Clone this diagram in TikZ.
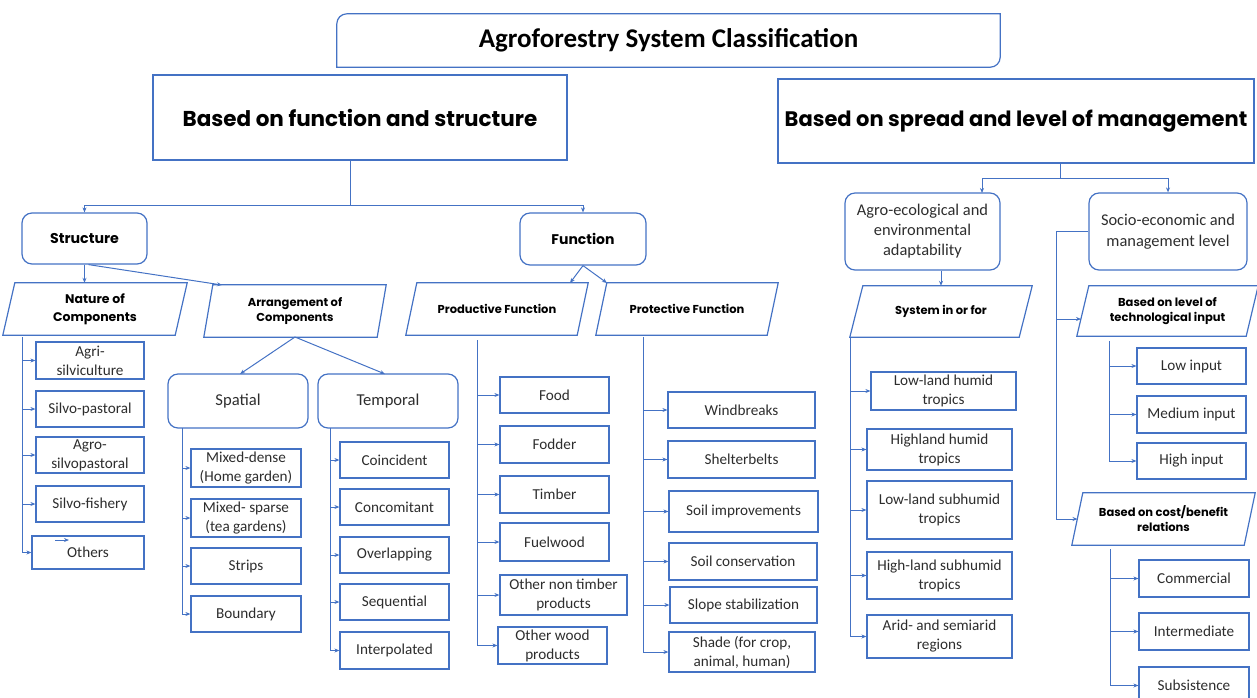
\documentclass[tikz,border=0pt]{standalone}
\usepackage{fontspec}
\setmainfont{Carlito}
\newfontfamily\hfont{Poppins}
\usetikzlibrary{arrows.meta,calc}
\definecolor{lb}{RGB}{68,114,196}
\definecolor{tx}{RGB}{45,45,45}
\newcommand\paraShape[2]{\draw[edge] (#1.south west) -- ([xshift=-#2pt]#1.south east) -- (#1.north east) -- ([xshift=#2pt]#1.north west) -- cycle;}
\tikzset{
  edge/.style={draw=lb, line width=1.2pt},
  leaf/.style={draw=lb, line width=1.2pt, align=center, text=tx, font=\fontsize{15.2}{19}\selectfont, inner sep=1pt},
  rbox/.style={leaf, rounded corners=10pt},
  ptext/.style={align=center, text=black, inner sep=0pt, font=\hfont\bfseries\fontsize{11.5}{15}\selectfont},
  conn/.style={draw=lb, line width=1pt},
  arr/.style={conn, -{Stealth[length=5pt,width=4pt]}},
}
\begin{document}
\begin{tikzpicture}[x=1pt,y=-1pt]
\useasboundingbox (0,0) rectangle (1257,697);
\clip (0,0) rectangle (1257,697);

% level 0 and 1
\node[draw=none, minimum width=663pt, minimum height=53pt, inner sep=0pt,
      font=\bfseries\fontsize{27}{30}\selectfont, text=black] (title) at (668.5,40.5) {Agroforestry System Classification};
\draw[edge] (title.west) [rounded corners=10pt] -- (title.north west) [sharp corners] -- (title.north east) -- (title.east) [rounded corners=10pt] -- (title.south east) [sharp corners] -- (title.south west) -- cycle;

\node[draw=lb, line width=1.2pt, minimum width=414pt, minimum height=85pt, inner sep=0pt,
      font=\hfont\bfseries\fontsize{21.5}{24}\selectfont] (bfs) at (360,117.5) {Based on function and structure};
\node[draw=lb, line width=1.2pt, minimum width=476pt, minimum height=84pt, inner sep=0pt,
      font=\hfont\bfseries\fontsize{21}{24}\selectfont] (bsm) at (1016,121) {Based on spread and level of management};

% level 2
\node[rbox, minimum width=125pt, minimum height=51pt, text=black, font=\hfont\bfseries\fontsize{14.2}{16}\selectfont] (struct) at (84.5,238.5) {Structure};
\node[rbox, minimum width=126pt, minimum height=52pt, text=black, font=\hfont\bfseries\fontsize{14}{16}\selectfont] (func) at (583,239) {Function};
\node[rbox, minimum width=155pt, minimum height=77pt, font=\fontsize{16.4}{20}\selectfont] (agro) at (922.5,231.5) {Agro-ecological and\\environmental\\adaptability};
\node[rbox, minimum width=158pt, minimum height=77pt, font=\fontsize{16.4}{21}\selectfont] (socio) at (1168,231.5) {Socio-economic and\\management level};

% parallelograms
\node[ptext, minimum width=184pt, minimum height=52pt, font=\hfont\bfseries\fontsize{12.5}{18}\selectfont] (nat) at (95,309) {Nature of\\Components};
\paraShape{nat}{12}
\node[ptext, minimum width=182pt, minimum height=52pt] (arrg) at (295,311) {Arrangement of\\Components};
\paraShape{arrg}{9}
\node[ptext, minimum width=182pt, minimum height=52pt] (prod) at (497,309) {Productive Function};
\paraShape{prod}{11}
\node[ptext, minimum width=182pt, minimum height=52pt] (prot) at (687,309) {Protective Function};
\paraShape{prot}{11}
\node[ptext, minimum width=182pt, minimum height=51pt] (sys) at (941,311.5) {System in or for};
\paraShape{sys}{13}
\node[ptext, minimum width=181pt, minimum height=50pt] (tech) at (1167.5,311) {Based on level of\\technological input};
\paraShape{tech}{12}
\node[ptext, minimum width=183pt, minimum height=52pt] (cost) at (1163.5,519) {Based on cost/benefit\\relations};
\paraShape{cost}{11}

% Spatial / Temporal
\node[rbox, minimum width=140pt, minimum height=54pt, font=\fontsize{16.6}{19}\selectfont] (spat) at (238,401) {Spatial};
\node[rbox, minimum width=140pt, minimum height=54pt, font=\fontsize{16.6}{19}\selectfont] (temp) at (388,401) {Temporal};

% Nature leaves
\node[leaf, minimum width=108pt, minimum height=37pt] (n1) at (90,360.5) {Agri-\\silviculture};
\node[leaf, minimum width=108pt, minimum height=36pt] (n2) at (90,409) {Silvo-pastoral};
\node[leaf, minimum width=108pt, minimum height=36pt] (n3) at (90,455) {Agro-\\silvopastoral};
\node[leaf, minimum width=108pt, minimum height=36pt] (n4) at (90,504) {Silvo-fishery};
\node[leaf, minimum width=112pt, minimum height=33pt] (n5) at (88,552.5) {Others};

% Spatial leaves
\node[leaf, minimum width=110pt, minimum height=38pt] (s1) at (246,468) {Mixed-dense\\(Home garden)};
\node[leaf, minimum width=110pt, minimum height=38pt] (s2) at (246,518) {Mixed- sparse\\(tea gardens)};
\node[leaf, minimum width=110pt, minimum height=36pt] (s3) at (246,566) {Strips};
\node[leaf, minimum width=110pt, minimum height=36pt] (s4) at (246,614) {Boundary};

% Temporal leaves
\node[leaf, minimum width=109pt, minimum height=36pt] (t1) at (394.5,460) {Coincident};
\node[leaf, minimum width=109pt, minimum height=36pt] (t2) at (394.5,507) {Concomitant};
\node[leaf, minimum width=109pt, minimum height=36pt] (t3) at (394.5,555) {Overlapping};
\node[leaf, minimum width=109pt, minimum height=36pt] (t4) at (394.5,602) {Sequential};
\node[leaf, minimum width=109pt, minimum height=37pt] (t5) at (394.5,650.5) {Interpolated};

% Productive leaves
\node[leaf, minimum width=109pt, minimum height=36pt] (p1) at (554.5,395) {Food};
\node[leaf, minimum width=109pt, minimum height=37pt] (p2) at (554.5,444.5) {Fodder};
\node[leaf, minimum width=109pt, minimum height=37pt] (p3) at (554.5,494.5) {Timber};
\node[leaf, minimum width=109pt, minimum height=38pt] (p4) at (554.5,542) {Fuelwood};
\node[leaf, minimum width=127pt, minimum height=40pt] (p5) at (563.5,595) {Other non timber\\products};
\node[leaf, minimum width=109pt, minimum height=37pt] (p6) at (552.5,645.5) {Other wood\\products};

% Protective leaves
\node[leaf, minimum width=147pt, minimum height=36pt] (r1) at (741.5,410) {Windbreaks};
\node[leaf, minimum width=147pt, minimum height=37pt] (r2) at (741.5,459.5) {Shelterbelts};
\node[leaf, minimum width=149pt, minimum height=41pt] (r3) at (743.5,511.5) {Soil improvements};
\node[leaf, minimum width=148pt, minimum height=37pt] (r4) at (743,561.5) {Soil conservation};
\node[leaf, minimum width=147pt, minimum height=36pt] (r5) at (743.5,605) {Slope stabilization};
\node[leaf, minimum width=146pt, minimum height=40pt] (r6) at (742,652) {Shade (for crop,\\animal, human)};

% System leaves
\node[leaf, minimum width=145pt, minimum height=38pt] (y1) at (943.5,391) {Low-land humid\\tropics};
\node[leaf, minimum width=145pt, minimum height=41pt] (y2) at (939.5,449.5) {Highland humid\\tropics};
\node[leaf, minimum width=145pt, minimum height=58pt] (y3) at (939.5,510) {Low-land subhumid\\tropics};
\node[leaf, minimum width=145pt, minimum height=47pt] (y4) at (939.5,575.5) {High-land subhumid\\tropics};
\node[leaf, minimum width=145pt, minimum height=43pt] (y5) at (939.5,636.5) {Arid- and semiarid\\regions};

% Tech leaves
\node[leaf, minimum width=109pt, minimum height=36pt] (i1) at (1191.5,366) {Low input};
\node[leaf, minimum width=109pt, minimum height=37pt] (i2) at (1191.5,414.5) {Medium input};
\node[leaf, minimum width=109pt, minimum height=36pt] (i3) at (1191.5,461) {High input};

% Cost leaves
\node[leaf, minimum width=110pt, minimum height=37pt] (c1) at (1194,578.5) {Commercial};
\node[leaf, minimum width=110pt, minimum height=37pt] (c2) at (1194,631.5) {Intermediate};
\node[leaf, minimum width=110pt, minimum height=37pt] (c3) at (1194,685.5) {Subsistence};

% ---------- connectors ----------
\coordinate (j1) at (350,205);
\draw[conn] (bfs.south -| j1) -- (j1);
\draw[arr] (j1) -| (struct.north);
\draw[arr] (j1) -| (func.north);

\draw[arr] (struct.south) -- (struct.south |- nat.north);
\coordinate (arrgIn) at (222,285);
\draw[arr] ([xshift=4pt]struct.south) -- (arrgIn);

\coordinate (arrgOut) at (295,337);
\coordinate (spatIn) at (240,374);
\coordinate (tempIn) at (385,374);
\draw[arr] (arrgOut) -- (spatIn);
\draw[arr] (arrgOut) -- (tempIn);

\coordinate (prodIn) at (570,283);
\coordinate (protIn) at (607,283);
\draw[arr] (func.south) -- (prodIn);
\draw[arr] (func.south) -- (protIn);

% buses
\coordinate (natB) at (22,337);
\draw[conn] (natB) -- (natB |- n5.west);
\foreach \c in {n1,n2,n3,n4,n5} \draw[arr] (natB |- \c.west) -- (\c.west);
\coordinate (strayA) at (55,540);
\coordinate (strayB) at (69,540);
\draw[arr] (strayA) -- (strayB);

\coordinate (spatB) at (182,428);
\draw[conn] (spatB) -- (spatB |- s4.west);
\foreach \c in {s1,s2,s3,s4} \draw[arr] (spatB |- \c.west) -- (\c.west);

\coordinate (tempB) at (330,428);
\draw[conn] (tempB) -- (tempB |- t5.west);
\foreach \c in {t1,t2,t3,t4,t5} \draw[arr] (tempB |- \c.west) -- (\c.west);

\coordinate (prodB) at (477,340);
\draw[conn] (prodB) -- (prodB |- p6.west);
\foreach \c in {p1,p2,p3,p4,p5,p6} \draw[arr] (prodB |- \c.west) -- (\c.west);

\coordinate (protB) at (643,337);
\draw[conn] (protB) -- (protB |- r6.west);
\foreach \c in {r1,r2,r3,r4,r5,r6} \draw[arr] (protB |- \c.west) -- (\c.west);

% right side
\coordinate (j2) at (1060,178);
\coordinate (agroIn) at (982,193);
\draw[conn] (bsm.south -| j2) -- (j2);
\draw[arr] (j2) -| (agroIn);
\draw[arr] (j2) -| (socio.north);
\draw[arr] (agro.south -| sys.north) -- (sys.north);

\coordinate (sysB) at (850,337);
\draw[conn] (sysB) -- (sysB |- y5.west);
\foreach \c in {y1,y2,y3,y4,y5} \draw[arr] (sysB |- \c.west) -- (\c.west);

\coordinate (socB) at (1056,231.5);
\coordinate (techIn) at (1081,319);
\coordinate (costIn) at (1077.5,519);
\draw[conn] (socio.west) -- (socB) -- (socB |- costIn);
\draw[arr] (socB |- techIn) -- (techIn);
\draw[arr] (socB |- costIn) -- (costIn);

\coordinate (techB) at (1109,341);
\draw[conn] (techB) -- (techB |- i3.west);
\foreach \c in {i1,i2,i3} \draw[arr] (techB |- \c.west) -- (\c.west);

\coordinate (costB) at (1110,549);
\draw[conn] (costB) -- (costB |- c3.west);
\foreach \c in {c1,c2,c3} \draw[arr] (costB |- \c.west) -- (\c.west);
\end{tikzpicture}
\end{document}
